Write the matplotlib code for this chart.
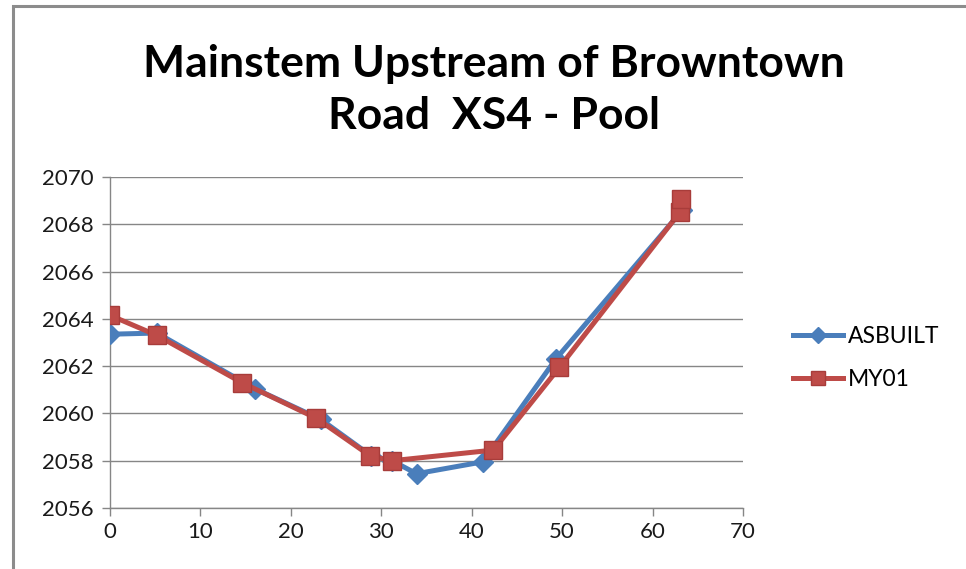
import matplotlib
matplotlib.use("Agg")
import matplotlib.pyplot as plt
from matplotlib.patches import Rectangle

plt.rcParams['font.family'] = ['Lato', 'DejaVu Sans']

title = "Mainstem Upstream of Browntown\nRoad  XS4 - Pool"

asbuilt_x = [0, 5.2, 16.0, 23.3, 28.9, 31.2, 33.9, 41.2, 49.3, 63.3]
asbuilt_y = [2063.35, 2063.4, 2061.05, 2059.75, 2058.2, 2058.0, 2057.45, 2057.95, 2062.3, 2068.6]

my01_x = [0, 5.2, 14.6, 22.8, 28.8, 31.2, 42.4, 49.7, 63.0, 63.1]
my01_y = [2064.15, 2063.3, 2061.3, 2059.8, 2058.2, 2058.0, 2058.45, 2061.95, 2068.5, 2069.05]

xticks = [0, 10, 20, 30, 40, 50, 60, 70]
yticks = [2056, 2058, 2060, 2062, 2064, 2066, 2068, 2070]

blue = '#4A7EBB'
red = '#BE4B48'
grid = '#868686'

fig = plt.figure(figsize=(9.66, 5.69), dpi=100)
fig.patches.append(Rectangle((13/966, -0.1), 1.2, (569-6)/569 + 0.1, transform=fig.transFigure,
                             fill=False, edgecolor='#8c8c8c', linewidth=2.2))
ax = fig.add_axes([110/966, (569-508)/569, (743-110)/966, (508-177)/569])

ax.plot(asbuilt_x, asbuilt_y, color=blue, lw=3.6, marker='D', ms=10,
        markerfacecolor=blue, markeredgecolor=blue, label='ASBUILT', zorder=3)
ax.plot(my01_x, my01_y, color=red, lw=3.6, marker='s', ms=13,
        markerfacecolor=red, markeredgecolor='#a83c3a', markeredgewidth=1, label='MY01', zorder=4)

ax.set_xlim(0, 70)
ax.set_ylim(2056, 2070)
ax.set_xticks(xticks)
ax.set_yticks(yticks)
ax.tick_params(axis='both', labelsize=16, colors=grid, labelcolor='#1a1a1a', length=6, width=1)
ax.tick_params(axis='y', pad=6)
ax.tick_params(axis='x', pad=4)
ax.grid(axis='y', color=grid, lw=1)
ax.set_axisbelow(True)
for s in ['top', 'right']:
    ax.spines[s].set_visible(False)
for s in ['left', 'bottom']:
    ax.spines[s].set_color(grid)
    ax.spines[s].set_linewidth(1)

fig.text(0.5 * (142 + 845) / 966, 1 - 90/569, title, ha='center', va='center',
         fontsize=32, fontweight='bold', linespacing=1.38)

leg = ax.legend(loc='center left', bbox_to_anchor=(793/966, (569-358)/569), bbox_transform=fig.transFigure,
                frameon=False, fontsize=16.5, handlelength=2.2, handletextpad=0.2, labelspacing=0.95,
                borderpad=0, borderaxespad=0, markerscale=0.8)

fig.savefig('out.png', dpi=100)
